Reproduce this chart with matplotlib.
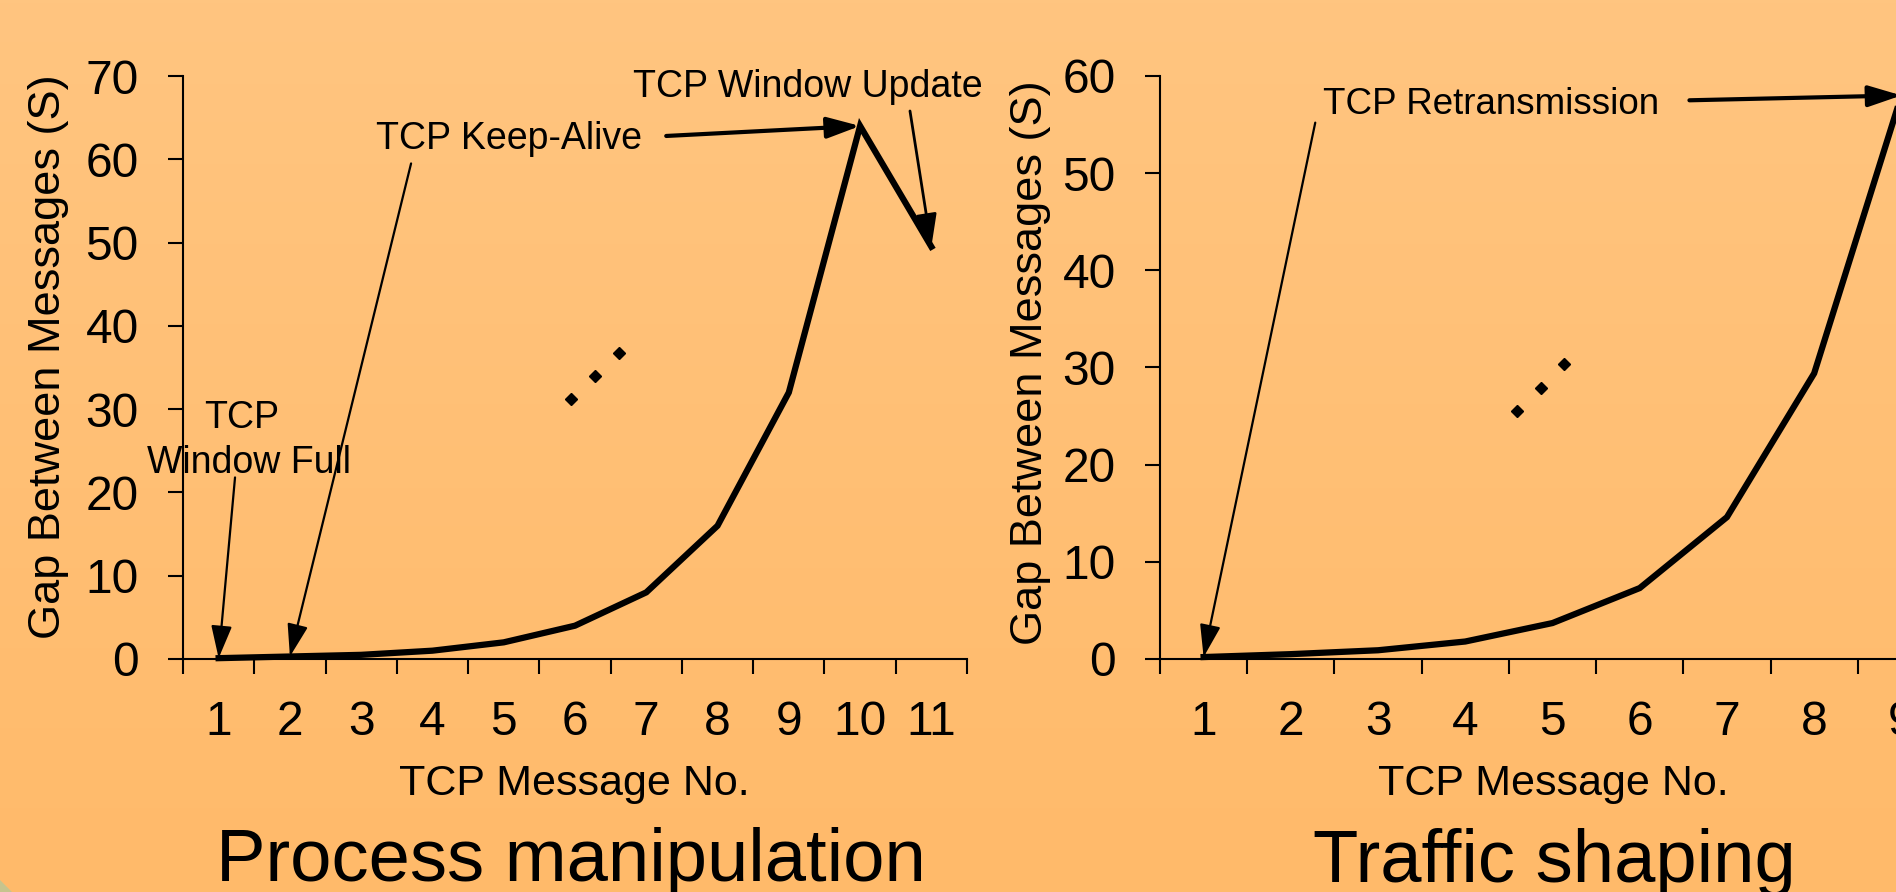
import numpy as np
import matplotlib
matplotlib.use('Agg')
import matplotlib.pyplot as plt
from matplotlib.colors import LinearSegmentedColormap
from matplotlib.patches import Polygon

plt.rcParams['font.family'] = ['Liberation Sans', 'DejaVu Sans']

# process manipulation panel
pm_msg = [1, 2, 3, 4, 5, 6, 7, 8, 9, 10, 11]
pm_gap = [0.1, 0.3, 0.5, 1, 2, 4, 8, 16, 32, 64, 49.5]
pm_dots_x = [5.94, 6.28, 6.62]
pm_dots_y = [31.2, 34.0, 36.8]

# traffic shaping panel
ts_msg = [1, 2, 3, 4, 5, 6, 7, 8, 9]
ts_gap = [0.2, 0.5, 0.9, 1.8, 3.7, 7.3, 14.6, 29.4, 58]
ts_dots_x = [4.59, 4.87, 5.13]
ts_dots_y = [25.5, 27.9, 30.4]

W, H = 1896, 892
fig = plt.figure(figsize=(W / 100, H / 100), dpi=100)

# slide background gradient
bg = fig.add_axes([0, 0, 1, 1], zorder=-10)
cmap = LinearSegmentedColormap.from_list('bg', ['#FFC580', '#FFBA6A'])
bg.imshow(np.linspace(0, 1, 256).reshape(-1, 1), aspect='auto', cmap=cmap,
          extent=[0, 1, 0, 1])
# little bit of the slide frame in the corner
bg.add_patch(Polygon([(0, 0), (0, 12 / H), (12 / W, 0)], closed=True,
                     color='#C6C48E', lw=0))
bg.set_xlim(0, 1)
bg.set_ylim(0, 1)
bg.axis('off')


def setup_axes(rect, ncat, ymax, ystep):
    ax = fig.add_axes(rect)
    ax.patch.set_alpha(0)
    ax.set_xlim(0.5, ncat + 0.5)
    ax.set_ylim(0, ymax)
    for s in ['top', 'right']:
        ax.spines[s].set_visible(False)
    for s in ['left', 'bottom']:
        ax.spines[s].set_linewidth(1.5)
    ax.set_yticks(np.arange(0, ymax + 1, ystep))
    ax.tick_params(axis='y', length=10.8, width=1.5, pad=21, labelsize=34.5)
    ax.tick_params(axis='x', which='major', length=0, pad=29.5, labelsize=34.5)
    ax.set_xticks(np.arange(0.5, ncat + 1), minor=True)
    ax.tick_params(axis='x', which='minor', length=10.8, width=1.5)
    return ax


def arrow(ax, head, tail, lw, ms=20):
    ax.annotate('', xy=head, xytext=tail, annotation_clip=False,
                arrowprops=dict(arrowstyle='-|>,head_length=1.0,head_width=0.32',
                                lw=lw, color='black', shrinkA=0, shrinkB=0,
                                mutation_scale=ms))


# left panel
ax1 = setup_axes([183 / W, 1 - 659 / H, 784 / W, 583 / H], len(pm_msg), 70, 10)
ax1.set_xticks(pm_msg)
ax1.set_xticklabels([str(m) for m in pm_msg])
ax1.plot(pm_msg, pm_gap, color='black', lw=4.5, solid_joinstyle='miter', clip_on=False)
ax1.plot(pm_dots_x, pm_dots_y, 'D', color='black', ms=6.5, ls='none')
ax1.text(-0.172, 0.518, 'Gap Between Messages (S)', rotation=90, ha='center',
         va='center', fontsize=32.5, transform=ax1.transAxes)
ax1.text(0.499, -0.233, 'TCP Message No.', ha='center', va='baseline',
         fontsize=31, transform=ax1.transAxes)
ax1.text(0.495, -0.380, 'Process manipulation', ha='center', va='baseline',
         fontsize=53.5, transform=ax1.transAxes)

ax1.text(9.26, 67.5, 'TCP Window Update', ha='center', va='baseline', fontsize=27)
arrow(ax1, (pm_msg[10], pm_gap[10]), (10.70, 65.8), 2)
ax1.text(5.07, 61.2, 'TCP Keep-Alive', ha='center', va='baseline', fontsize=27)
arrow(ax1, (pm_msg[9], pm_gap[9]), (7.28, 62.8), 3)
arrow(ax1, (pm_msg[1], pm_gap[1]), (3.70, 59.5), 1.6)
ax1.text(1.33, 27.7, 'TCP', ha='center', va='baseline', fontsize=27)
ax1.text(1.43, 22.3, 'Window Full', ha='center', va='baseline', fontsize=27)
arrow(ax1, (pm_msg[0], pm_gap[0]), (1.23, 21.8), 1.6)

# right panel (runs off the slide edge)
ax2 = setup_axes([1160 / W, 1 - 659 / H, 785 / W, 583 / H], len(ts_msg), 60, 10)
ax2.set_xticks(ts_msg)
ax2.set_xticklabels([str(m) for m in ts_msg])
ax2.plot(ts_msg, ts_gap, color='black', lw=4.5, solid_joinstyle='miter', clip_on=False)
ax2.plot(ts_dots_x, ts_dots_y, 'D', color='black', ms=6.5, ls='none')
ax2.text(-0.1656, 0.508, 'Gap Between Messages (S)', rotation=90, ha='center',
         va='center', fontsize=32.5, transform=ax2.transAxes)
ax2.text(0.5006, -0.233, 'TCP Message No.', ha='center', va='baseline',
         fontsize=31, transform=ax2.transAxes)
ax2.text(0.503, -0.382, 'Traffic shaping', ha='center', va='baseline',
         fontsize=53.5, transform=ax2.transAxes)

ax2.text(4.29, 56.1, 'TCP Retransmission', ha='center', va='baseline', fontsize=26.5)
arrow(ax2, (ts_msg[8], ts_gap[8]), (6.57, 57.5), 3)
arrow(ax2, (ts_msg[0], ts_gap[0]), (2.28, 55.2), 1.6)

fig.savefig('out.png', dpi=100)
plt.close(fig)
